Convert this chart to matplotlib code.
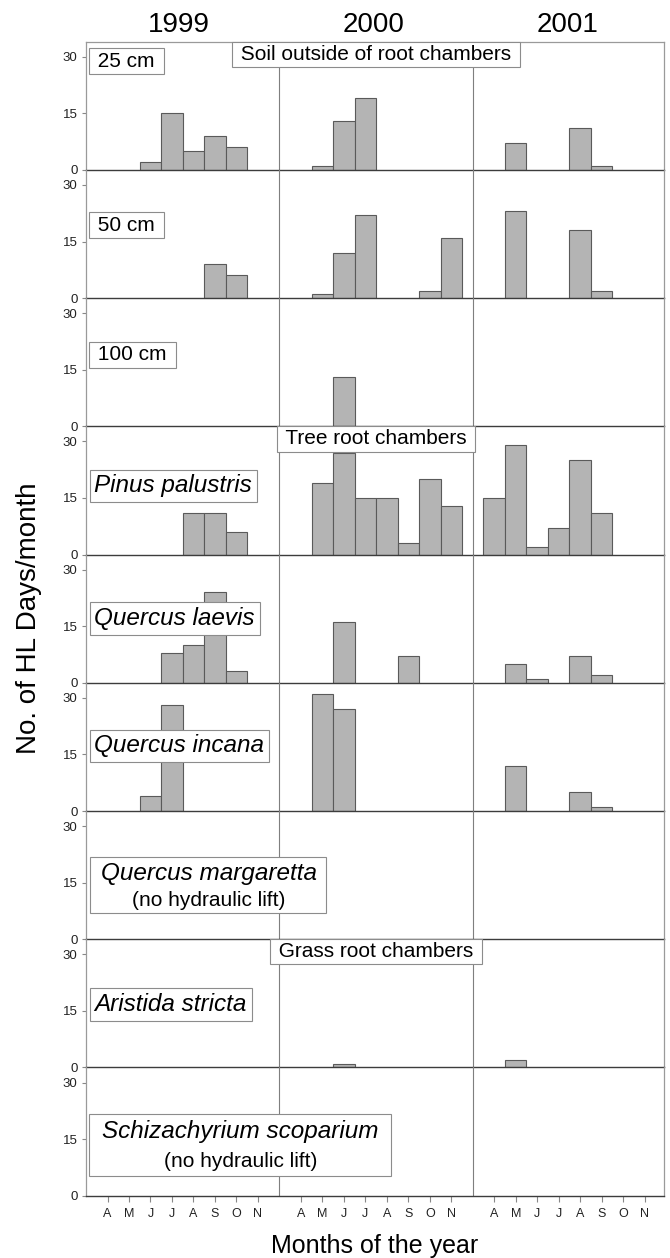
import matplotlib
matplotlib.use('Agg')
import matplotlib.pyplot as plt
import matplotlib.transforms as mtransforms
from matplotlib.patches import Rectangle

plt.rcParams['font.family'] = ['Liberation Sans', 'DejaVu Sans']

# Mois d'avril a novembre pour chaque annee
years = ['1999', '2000', '2001']
months = ['A', 'M', 'J', 'J', 'A', 'S', 'O', 'N']

# Nombre de jours de HL par mois (une liste par annee)
soil_25cm = [[0, 0, 2, 15, 5, 9, 6, 0], [0, 1, 13, 19, 0, 0, 0, 0], [0, 7, 0, 0, 11, 1, 0, 0]]
soil_50cm = [[0, 0, 0, 0, 0, 9, 6, 0], [0, 1, 12, 22, 0, 0, 2, 16], [0, 23, 0, 0, 18, 2, 0, 0]]
soil_100cm = [[0, 0, 0, 0, 0, 0, 0, 0], [0, 0, 13, 0, 0, 0, 0, 0], [0, 0, 0, 0, 0, 0, 0, 0]]
pinus_palustris = [[0, 0, 0, 0, 11, 11, 6, 0], [0, 19, 27, 15, 15, 3, 20, 13], [15, 29, 2, 7, 25, 11, 0, 0]]
quercus_laevis = [[0, 0, 0, 8, 10, 24, 3, 0], [0, 0, 16, 0, 0, 7, 0, 0], [0, 5, 1, 0, 7, 2, 0, 0]]
quercus_incana = [[0, 0, 4, 28, 0, 0, 0, 0], [0, 31, 27, 0, 0, 0, 0, 0], [0, 12, 0, 0, 5, 1, 0, 0]]
quercus_margaretta = [[0, 0, 0, 0, 0, 0, 0, 0], [0, 0, 0, 0, 0, 0, 0, 0], [0, 0, 0, 0, 0, 0, 0, 0]]
aristida_stricta = [[0, 0, 0, 0, 0, 0, 0, 0], [0, 0, 1, 0, 0, 0, 0, 0], [0, 2, 0, 0, 0, 0, 0, 0]]
schizachyrium = [[0, 0, 0, 0, 0, 0, 0, 0], [0, 0, 0, 0, 0, 0, 0, 0], [0, 0, 0, 0, 0, 0, 0, 0]]

panels = [soil_25cm, soil_50cm, soil_100cm, pinus_palustris, quercus_laevis,
          quercus_incana, quercus_margaretta, aristida_stricta, schizachyrium]

# chaque annee occupe 9 cases : une vide puis avril..novembre
slot = 9
bar_x = [yi * slot + 1 + mi for yi in range(len(years)) for mi in range(len(months))]

fig, axes = plt.subplots(9, 1, figsize=(6.7, 12.58), dpi=100)
fig.subplots_adjust(left=0.1284, right=0.991, top=0.9669, bottom=0.0495, hspace=0)

frame_col = '#9a9a9a'
for i, ax in enumerate(axes):
    ax.patch.set_visible(False)  # sinon le fond cache la ligne du zero du panneau au-dessus
    vals = [v for yr in panels[i] for v in yr]
    xs = [x for x, v in zip(bar_x, vals) if v > 0]
    hs = [v for v in vals if v > 0]
    ax.bar(xs, hs, width=1.0, color='#b4b4b4', edgecolor='#5a5a5a', linewidth=0.8, zorder=2)
    ax.axvline(slot, color='#7f7f7f', lw=0.8, zorder=1)
    ax.axvline(2 * slot, color='#7f7f7f', lw=0.8, zorder=1)
    ax.set_xlim(0, 26.9)
    ax.set_ylim(0, 34)
    ax.set_yticks([0, 15, 30])
    ax.tick_params(axis='y', direction='out', length=3, width=0.8, color='#888888',
                   labelsize=9.5, pad=3, labelcolor='#222222')
    for s in ['left', 'right', 'top']:
        ax.spines[s].set_color(frame_col)
        ax.spines[s].set_linewidth(0.9)
    ax.spines['bottom'].set_color('#3c3c3c')
    ax.spines['bottom'].set_linewidth(1.0)
    ax.spines['bottom'].set_zorder(4)
    if i > 0:
        ax.spines['top'].set_visible(False)
    if i < len(axes) - 1:
        ax.set_xticks([])

# axe des mois en bas
axb = axes[-1]
axb.set_xticks(bar_x)
axb.set_xticklabels(months * len(years))
axb.tick_params(axis='x', direction='out', length=4, width=0.8, color='#888888',
                labelsize=9, pad=5, labelcolor='#222222')

# annees en haut
year_x = [4.3, 13.4, 22.4]
trans = mtransforms.blended_transform_factory(axes[0].transData, axes[0].transAxes)
for yx, yr in zip(year_x, years):
    axes[0].text(yx, 1.078, yr, transform=trans, ha='center', va='baseline', fontsize=20)

box = dict(boxstyle='square,pad=0.15', fc='white', ec='#8c8c8c', lw=0.8)
box_it = dict(boxstyle='square,pad=0.2', fc='white', ec='#8c8c8c', lw=0.8)

# etiquettes des profondeurs
for ax, txt, yy in zip(axes[:3], [' 25 cm ', ' 50 cm ', ' 100 cm '], [0.849, 0.570, 0.557]):
    ax.text(0.011, yy, txt, transform=ax.transAxes, ha='left', va='center', fontsize=15,
            bbox=box, zorder=5)

# especes (une ligne)
for ax, txt, yy in zip([axes[3], axes[4], axes[5], axes[7]],
                       ['Pinus palustris', 'Quercus laevis', 'Quercus incana', 'Aristida stricta'],
                       [0.535, 0.50, 0.508, 0.494]):
    ax.text(0.0145, yy, txt, transform=ax.transAxes, ha='left', va='center', fontsize=17.5,
            style='italic', bbox=box_it, zorder=5)

# especes sans HL (deux lignes)
for ax, txt, rect, cx, yl1, yl2 in [
        (axes[6], 'Quercus margaretta', (0.0069, 0.201, 0.4077, 0.442), 0.2125, 0.461, 0.258),
        (axes[8], 'Schizachyrium scoparium', (0.0052, 0.156, 0.5225, 0.481), 0.267, 0.448, 0.222)]:
    ax.add_patch(Rectangle(rect[:2], rect[2], rect[3], transform=ax.transAxes, fc='white',
                           ec='#8c8c8c', lw=0.8, zorder=5))
    ax.text(cx, yl1, txt, transform=ax.transAxes, ha='center', va='baseline', fontsize=17.5,
            style='italic', zorder=6)
    ax.text(cx, yl2, '(no hydraulic lift)', transform=ax.transAxes, ha='center',
            va='baseline', fontsize=15, zorder=6)

# titres de groupes
for ax, txt in [(axes[0], ' Soil outside of root chambers '), (axes[3], ' Tree root chambers '),
                (axes[7], ' Grass root chambers ')]:
    t = mtransforms.blended_transform_factory(ax.transData, ax.transAxes)
    ax.text(13.5, 0.976, txt, transform=t, ha='center', va='top', fontsize=15,
            bbox=box, zorder=5)

fig.text(29 / 670, (0.9669 + 0.0495) / 2, 'No. of HL Days/month', rotation=90,
         ha='center', va='center', fontsize=20)
fig.text(375 / 670, 0.004, 'Months of the year', ha='center', va='baseline', fontsize=18)

fig.savefig('out.png', dpi=100, facecolor='white')
